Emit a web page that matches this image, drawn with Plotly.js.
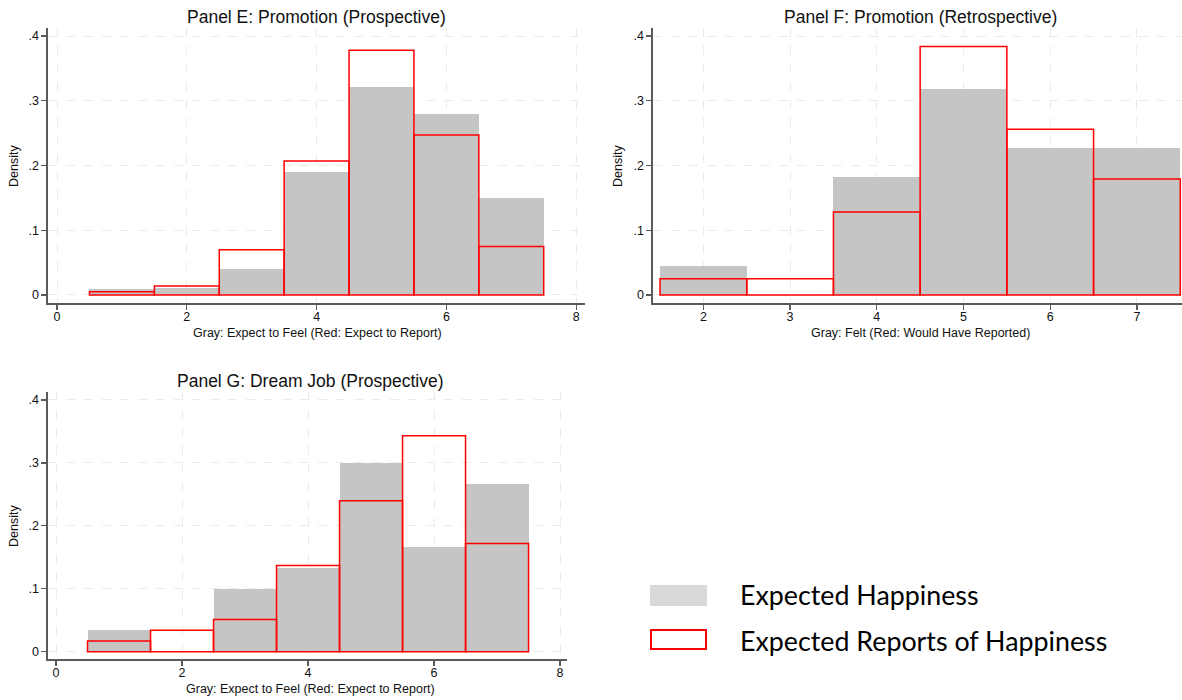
<!DOCTYPE html>
<html>
<head>
<meta charset="utf-8">
<script src="https://cdn.plot.ly/plotly-3.0.1.min.js"></script>
<style>html,body{margin:0;padding:0;background:#fff;}#chart{width:1182px;height:700px;}</style>
</head>
<body>
<div id="chart"></div>
<script>
// ---- data ----
const binsE = [1, 2, 3, 4, 5, 6, 7];
const grayE = [0.010, 0.011, 0.040, 0.190, 0.321, 0.280, 0.150];
const redE  = [0.005, 0.014, 0.070, 0.207, 0.378, 0.247, 0.075];

const binsF = [2, 3, 4, 5, 6, 7];
const grayF = [0.045, 0.000, 0.182, 0.318, 0.227, 0.227];
const redF  = [0.025, 0.025, 0.128, 0.384, 0.256, 0.179];

const binsG = [1, 2, 3, 4, 5, 6, 7];
const grayG = [0.034, 0.000, 0.100, 0.133, 0.300, 0.167, 0.266];
const redG  = [0.017, 0.034, 0.051, 0.137, 0.240, 0.343, 0.172];

const titles = ["Panel E: Promotion (Prospective)", "Panel F: Promotion (Retrospective)", "Panel G: Dream Job (Prospective)"];
const xTitles = ["Gray: Expect to Feel (Red: Expect to Report)", "Gray: Felt (Red: Would Have Reported)", "Gray: Expect to Feel (Red: Expect to Report)"];
const yTitle = "Density";
const yTickVals = [0, 0.1, 0.2, 0.3, 0.4];
const yTickText = ["0", ".1", ".2", ".3", ".4"];
const xTicksE = [0, 2, 4, 6, 8];
const xTicksF = [2, 3, 4, 5, 6, 7];
const xTicksG = [0, 2, 4, 6, 8];
const legendLabels = ["Expected Happiness", "Expected Reports of Happiness"];

// ---- styling ----
const W = 1182, H = 700;
const px = v => v / W;
const py = v => 1 - v / H;
const GRAY = "rgb(197,197,197)";
const RED = "rgb(255,0,0)";
const FONT = "Liberation Sans, Arial, sans-serif";
const AXC = "#5a5a5a";

function grayTrace(x, y, xa, ya) {
  return {type: "bar", x: x, y: y, width: 1, xaxis: xa, yaxis: ya,
    marker: {color: GRAY, line: {width: 0}}, showlegend: false, hoverinfo: "skip"};
}
function redTrace(x, y, xa, ya) {
  return {type: "bar", x: x, y: y, width: 1, xaxis: xa, yaxis: ya,
    marker: {color: "rgba(0,0,0,0)", line: {color: RED, width: 1.5}}, showlegend: false, hoverinfo: "skip"};
}

const data = [
  grayTrace(binsE, grayE, "x", "y"), redTrace(binsE, redE, "x", "y"),
  grayTrace(binsF, grayF, "x2", "y2"), redTrace(binsF, redF, "x2", "y2"),
  grayTrace(binsG, grayG, "x3", "y3"), redTrace(binsG, redG, "x3", "y3")
];

function xAxis(domain, range, ticks, anchor) {
  return {domain: domain, range: range, anchor: anchor, tickvals: ticks, ticktext: ticks.map(String),
    showline: true, linecolor: AXC, linewidth: 1.6, ticks: "outside", ticklen: 5, tickcolor: AXC, tickwidth: 1.2,
    ticklabelstandoff: -4,
    showgrid: true, gridcolor: "#ebebeb", griddash: "dash", gridwidth: 1, zeroline: false,
    tickfont: {family: FONT, size: 12.5, color: "#111"},
    automargin: false, fixedrange: true};
}
function yAxis(domain, range, anchor) {
  return {domain: domain, range: range, anchor: anchor, tickvals: yTickVals, ticktext: yTickText,
    showline: true, linecolor: AXC, linewidth: 1.6, ticks: "outside", ticklen: 5, tickcolor: AXC, tickwidth: 1.2,
    showgrid: true, gridcolor: "#ebebeb", griddash: "dash", gridwidth: 1, zeroline: false,
    tickfont: {family: FONT, size: 12.5, color: "#111"},
    automargin: false, fixedrange: true};
}
function txt(t, x, y, size, opts) {
  return Object.assign({text: t, xref: "paper", yref: "paper", x: px(x), y: py(y), showarrow: false,
    xanchor: "center", yanchor: "middle", font: {family: FONT, size: size, color: "#111"}}, opts || {});
}

const layout = {
  width: W, height: H,
  margin: {l: 0, r: 0, t: 0, b: 0},
  paper_bgcolor: "#fff", plot_bgcolor: "#fff",
  barmode: "overlay", bargap: 0,
  showlegend: false,
  xaxis:  xAxis([px(48), px(585)], [-0.139, 8.136], xTicksE, "y"),
  yaxis:  yAxis([py(303), py(28)], [-0.0124, 0.4124], "x"),
  xaxis2: xAxis([px(653), 1], [1.419, 7.52], xTicksF, "y2"),
  yaxis2: yAxis([py(303), py(28)], [-0.0124, 0.4124], "x2"),
  xaxis3: xAxis([px(48), px(567)], [-0.127, 8.11], xTicksG, "y3"),
  yaxis3: yAxis([py(659), py(392)], [-0.0116, 0.4127], "x3"),
  annotations: [
    txt(titles[0], 316, 17, 17.5),
    txt(titles[1], 920, 17, 17.5),
    txt(titles[2], 311, 381, 17.5),
    txt(xTitles[0], 317, 333, 12.5),
    txt(xTitles[1], 920, 333, 12.5),
    txt(xTitles[2], 310, 689, 12.5),
    txt(yTitle, 14, 166, 12.5, {textangle: -90}),
    txt(yTitle, 618, 166, 12.5, {textangle: -90}),
    txt(yTitle, 14, 526, 12.5, {textangle: -90}),
    txt(legendLabels[0], 738, 595, 26.8, {xanchor: "left", font: {family: "Lato, sans-serif", size: 26.8, color: "#000"}}),
    txt(legendLabels[1], 738, 641, 26.8, {xanchor: "left", font: {family: "Lato, sans-serif", size: 26.8, color: "#000"}})
  ],
  shapes: [
    {type: "rect", xref: "paper", yref: "paper", x0: px(650), x1: px(707), y0: py(606), y1: py(585), fillcolor: "#d9d9d9", line: {width: 0}},
    {type: "rect", xref: "paper", yref: "paper", x0: px(651), x1: px(706), y0: py(649), y1: py(630), fillcolor: "rgba(0,0,0,0)", line: {color: RED, width: 2}}
  ]
};

Plotly.newPlot("chart", data, layout, {staticPlot: true, displayModeBar: false});
</script>
</body>
</html>
